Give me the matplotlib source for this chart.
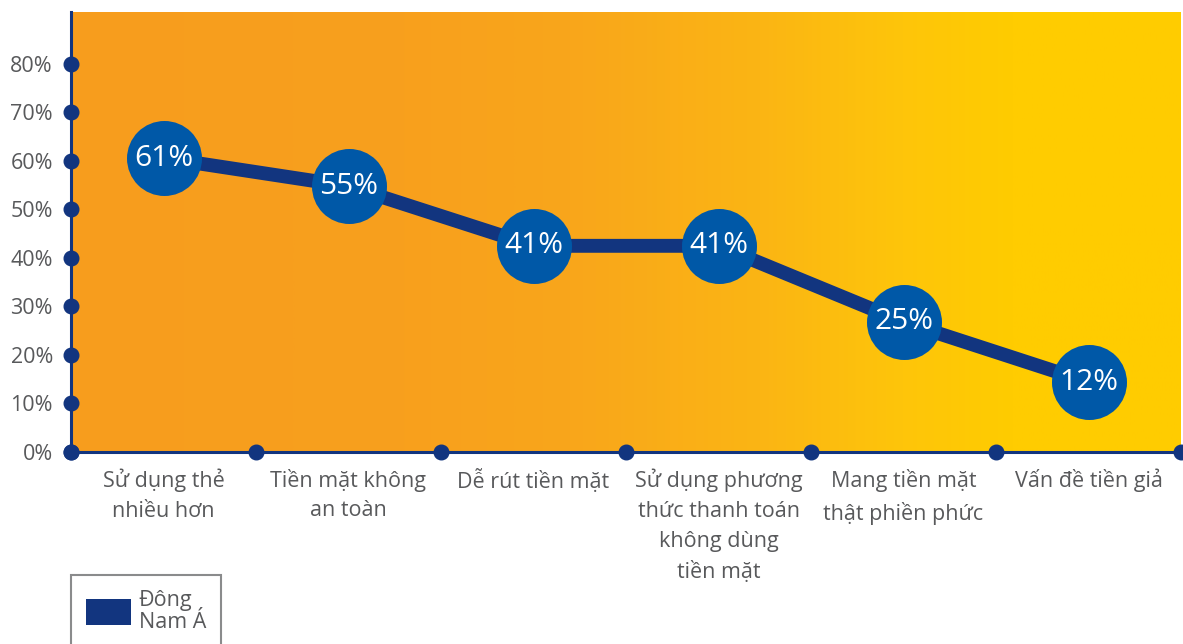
import numpy as np
import matplotlib
matplotlib.use("Agg")
import matplotlib.pyplot as plt
from matplotlib.colors import LinearSegmentedColormap
from matplotlib.patches import Patch

plt.rcParams['font.family'] = ['Open Sans', 'DejaVu Sans']

categories = ["Sử dụng thẻ\nnhiều hơn", "Tiền mặt không\nan toàn", "Dễ rút tiền mặt",
              "Sử dụng phương\nthức thanh toán\nkhông dùng\ntiền mặt",
              "Mang tiền mặt\nthật phiền phức", "Vấn đề tiền giả"]
values = [60.6, 54.8, 42.5, 42.5, 26.8, 14.4]
labels = ["61%", "55%", "41%", "41%", "25%", "12%"]
yticks = [0, 10, 20, 30, 40, 50, 60, 70, 80]
ytick_labels = ["0%", "10%", "20%", "30%", "40%", "50%", "60%", "70%", "80%"]
series_name = "Đông\nNam Á"

W, H = 1183, 644
fig = plt.figure(figsize=(W / 100, H / 100), dpi=100)
ax = fig.add_axes([71 / W, 1 - 452 / H, (1181 - 71) / W, (452 - 12) / H])

n = len(categories)
xmin, xmax = -0.5, n - 0.5
ymax = 90.7
ax.set_xlim(xmin, xmax)
ax.set_ylim(0, ymax)

# gradient background
cmap = LinearSegmentedColormap.from_list("bg", [
    (0.0, "#F79D1E"), (0.30, "#F8A01D"), (0.45, "#F9A61B"),
    (0.62, "#FBB514"), (0.75, "#FEC50A"), (0.85, "#FFCC00"), (1.0, "#FFCC00")])
grad = np.linspace(0, 1, 512).reshape(1, -1)
ax.imshow(grad, cmap=cmap, aspect="auto", extent=[xmin, xmax, 0, ymax], zorder=0)

navy = "#12357F"
circle_c = "#0058A7"
text_c = "#58595B"

x = np.arange(n)
ax.plot(x, values, color=navy, lw=10, solid_capstyle="butt", zorder=2)
ax.plot(x, values, "o", ms=54, color=circle_c, mec="none", zorder=3)
for xi, v, lab in zip(x, values, labels):
    ax.text(xi, v, lab, ha="center", va="center", color="white", fontsize=21.5, zorder=4)

# spines
for s in ["top", "right"]:
    ax.spines[s].set_visible(False)
for s in ["left", "bottom"]:
    ax.spines[s].set_color(navy)
    ax.spines[s].set_linewidth(2.2)
    ax.spines[s].set_zorder(5)

# ticks
ax.set_yticks(yticks)
ax.set_yticklabels(ytick_labels)
ax.tick_params(axis="y", length=0, pad=13, labelsize=15.5, labelcolor=text_c)
bounds = np.arange(n + 1) - 0.5
ax.set_xticks(bounds)
ax.set_xticklabels([])
ax.set_xticks(x, minor=True)
ax.set_xticklabels(categories, minor=True, linespacing=1.55)
ax.tick_params(axis="x", which="both", length=0)
ax.tick_params(axis="x", which="minor", pad=12, labelsize=15.5, labelcolor=text_c)

# tick dots on axes
ax.plot(np.full(len(yticks), xmin), yticks, "o", ms=10.5, color=navy, clip_on=False, zorder=6)
ax.plot(bounds, np.zeros(len(bounds)), "o", ms=10.5, color=navy, clip_on=False, zorder=6)

leg = fig.legend(handles=[Patch(facecolor="#12357F", edgecolor="none", label=series_name)],
                 loc="upper left", bbox_to_anchor=(71 / W, 1 - 575 / H),
                 frameon=True, fancybox=False, labelcolor=text_c,
                 handlelength=2.1, handleheight=1.5, handletextpad=0.35,
                 borderpad=0.7, borderaxespad=0, prop={'size': 15.5})
for t in leg.get_texts():
    t.set_linespacing(1.05)
leg.get_frame().set_edgecolor("#6D6E70")
leg.get_frame().set_linewidth(1.5)

fig.savefig("out.png", dpi=100)
